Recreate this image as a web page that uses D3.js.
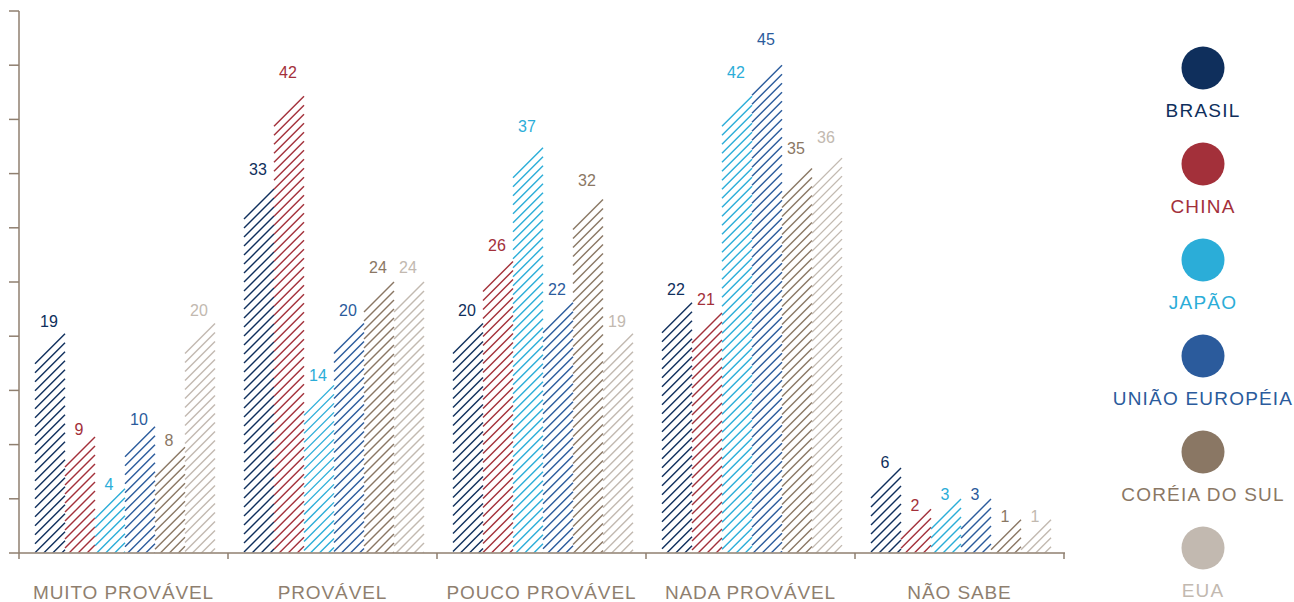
<!DOCTYPE html>
<html>
<head>
<meta charset="utf-8">
<script src="https://cdn.jsdelivr.net/npm/d3@7"></script>
<style>
  body { margin: 0; background: #fff; }
  text { font-family: "Liberation Sans", Arial, sans-serif; }
</style>
</head>
<body>
<svg id="chart"></svg>
<script>
// data
const categories = ["MUITO PROVÁVEL", "PROVÁVEL", "POUCO PROVÁVEL", "NADA PROVÁVEL", "NÃO SABE"];
const series = ["BRASIL", "CHINA", "JAPÃO", "UNIÃO EUROPÉIA", "CORÉIA DO SUL", "EUA"];
const colors = ["#0f2f5c", "#a3303a", "#2badd8", "#2b5b9c", "#8a7764", "#c2b9b0"];
const brasil = [19, 33, 20, 22, 6];
const china = [9, 42, 26, 21, 2];
const japao = [4, 14, 37, 42, 3];
const uniaoEuropeia = [10, 20, 22, 45, 3];
const coreiaDoSul = [8, 24, 32, 35, 1];
const eua = [20, 24, 19, 36, 1];
const values = [brasil, china, japao, uniaoEuropeia, coreiaDoSul, eua];

const w = 1294, h = 602;
const axisColor = "#8f7f6f";
const base = 553;

const svg = d3.select("#chart").attr("width", w).attr("height", h);

const x = d3.scaleBand().domain(categories).range([19, 1064]);
const xs = d3.scaleBand().domain(series).range([16, 196]);
const y = d3.scaleLinear().domain([0, 50]).range([base, 11]);
// hatched tops sit a little lower than the axis scale
const yBar = d3.scaleLinear().domain([0, 50]).range([530, 13.5]);

// flatten
const bars = [];
categories.forEach((c, ci) => {
  series.forEach((s, si) => {
    bars.push({cat: c, ser: s, si: si, v: values[si][ci]});
  });
});

svg.append("defs").append("clipPath").attr("id", "plotclip")
  .append("rect").attr("x", 0).attr("y", 0).attr("width", w).attr("height", base - 0.5);

const spacing = 9;
const bw = xs.bandwidth();

const g = svg.append("g").attr("clip-path", "url(#plotclip)");
bars.forEach(d => {
  const x0 = x(d.cat) + xs(d.ser);
  const top = yBar(d.v);
  const n = Math.ceil((base - top) / spacing) + 1;
  g.selectAll(null)
    .data(d3.range(n))
    .enter()
    .append("line")
    .attr("x1", x0)
    .attr("x2", x0 + bw)
    .attr("y1", k => top + bw + k * spacing)
    .attr("y2", k => top + k * spacing)
    .style("stroke", colors[d.si])
    .style("stroke-width", 1.4);
});

// value labels
svg.selectAll(".val")
  .data(bars)
  .enter()
  .append("text")
  .attr("x", d => x(d.cat) + xs(d.ser) + bw / 2 - 1)
  .attr("y", d => y(d.v) - 20)
  .attr("text-anchor", "middle")
  .style("font-size", "16px")
  .style("fill", d => colors[d.si])
  .text(d => d.v);

// axes
const yAxis = svg.append("g");
yAxis.append("line")
  .attr("x1", 19).attr("x2", 19).attr("y1", y(50)).attr("y2", base)
  .style("stroke", axisColor).style("stroke-width", 1.5);
yAxis.selectAll(".yt")
  .data(y.ticks(10))
  .enter()
  .append("line")
  .attr("x1", 9).attr("x2", 19)
  .attr("y1", d => y(d)).attr("y2", d => y(d))
  .style("stroke", axisColor).style("stroke-width", 1.5);

const xAxis = svg.append("g");
xAxis.append("line")
  .attr("x1", 19).attr("x2", 1065).attr("y1", base).attr("y2", base)
  .style("stroke", axisColor).style("stroke-width", 1.5);
const edges = categories.map(c => x(c)).concat([x.range()[1]]);
xAxis.selectAll(".xt")
  .data(edges)
  .enter()
  .append("line")
  .attr("x1", d => d).attr("x2", d => d)
  .attr("y1", base).attr("y2", base + 6)
  .style("stroke", axisColor).style("stroke-width", 1.5);

xAxis.selectAll(".xl")
  .data(categories)
  .enter()
  .append("text")
  .attr("x", d => x(d) + x.bandwidth() / 2)
  .attr("y", 599)
  .attr("text-anchor", "middle")
  .style("font-size", "19px")
  .style("letter-spacing", "0.9px")
  .style("fill", axisColor)
  .text(d => d);

// legend
const legend = svg.selectAll(".leg")
  .data(series)
  .enter()
  .append("g")
  .attr("transform", (d, i) => `translate(1203, ${68 + i * 96})`);

legend.append("circle")
  .attr("r", 21.5)
  .style("fill", (d, i) => colors[i]);

legend.append("text")
  .attr("y", 49)
  .attr("text-anchor", "middle")
  .style("font-size", "19px")
  .style("letter-spacing", "1.2px")
  .style("fill", (d, i) => colors[i])
  .text(d => d);
</script>
</body>
</html>
